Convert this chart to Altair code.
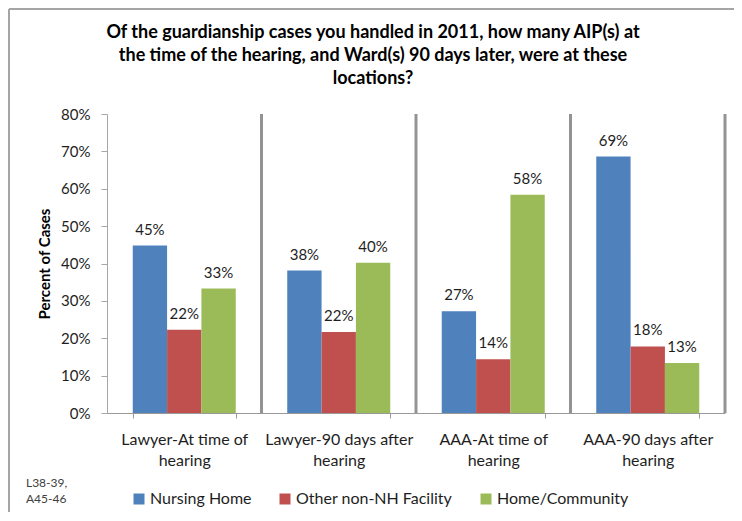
import altair as alt
import pandas as pd

# ---- data ----
categories = [
    "Lawyer-At time of hearing",
    "Lawyer-90 days after hearing",
    "AAA-At time of hearing",
    "AAA-90 days after hearing",
]
series = ["Nursing Home", "Other non-NH Facility", "Home/Community"]
nursing_home = [0.448, 0.381, 0.272, 0.686]
other_facility = [0.223, 0.217, 0.144, 0.178]
home_community = [0.333, 0.402, 0.584, 0.134]
colors = ["#4F81BD", "#C0504D", "#9BBB59"]
y_ticks = [0.0, 0.1, 0.2, 0.3, 0.4, 0.5, 0.6, 0.7, 0.8]
boundaries = [1, 2, 3, 4]
title_text = (
    "Of the guardianship cases you handled in 2011, how many AIP(s) at\n"
    "the time of the hearing, and Ward(s) 90 days later, were at these\n"
    "locations?"
)
footnote = "L38-39,\nA45-46"

rows = []
for i, c in enumerate(categories):
    for s, vals in zip(series, [nursing_home, other_facility, home_community]):
        rows.append({"category": c, "series": s, "value": vals[i]})
df = pd.DataFrame(rows)

W, H = 618, 299
FONT = "Lato"
TXT = "#1e1e1e"
PAD = {"left": 99, "top": 106, "right": 9, "bottom": 99}

x_enc = alt.X(
    "category:N",
    sort=categories,
    scale=alt.Scale(paddingInner=1 / 3, paddingOuter=1 / 6),
    axis=alt.Axis(
        title=None,
        tickBand="extent",
        labelExpr="(datum.label && length(datum.label) > 0) ? [replace(datum.label, ' hearing', ''), 'hearing'] : ''",
        labelAngle=0,
        labelFontSize=16,
        labelColor=TXT,
        labelPadding=13,
        labelLineHeight=21,
        labelBaseline="top",
        tickSize=5,
        tickColor="#999999",
        domainColor="#999999",
        grid=False,
    ),
)
xoff = alt.XOffset("series:N", sort=series, scale=alt.Scale(paddingInner=0, paddingOuter=0))
y_axis = alt.Axis(
    values=y_ticks,
    tickCount=9,
    format=".0%",
    labelFontSize=15,
    labelColor=TXT,
    labelPadding=11,
    labelFlush=False,
    labelOverlap=False,
    tickSize=6,
    tickColor="#A6A6A6",
    domainColor="#A6A6A6",
    grid=False,
    title="Percent of Cases",
    titleFontSize=15,
    titleFontWeight="bold",
    titleColor="#000000",
    titleAngle=270,
    titleX=-63,
    titleY=H / 2,
    titleAlign="center",
    titleBaseline="middle",
)
y_enc = alt.Y("value:Q", scale=alt.Scale(domain=[0, 0.8], nice=False), axis=y_axis)

bars = alt.Chart(df).mark_bar().encode(
    x=x_enc,
    xOffset=xoff,
    y=y_enc,
    color=alt.Color(
        "series:N",
        sort=series,
        scale=alt.Scale(domain=series, range=colors),
        legend=alt.Legend(
            title=None,
            orient="none",
            legendX=24,
            legendY=377,
            direction="horizontal",
            symbolType="square",
            symbolSize=121,
            symbolStrokeWidth=0,
            labelFontSize=16,
            labelColor=TXT,
            labelOffset=3,
            columnPadding=25,
            padding=0,
        ),
    ),
)

labels = alt.Chart(df).mark_text(
    dy=-11, baseline="alphabetic", fontSize=15, color=TXT, font=FONT
).encode(
    x=x_enc,
    xOffset=xoff,
    y=y_enc,
    text=alt.Text("value:Q", format=".0%"),
)

separators = alt.Chart(pd.DataFrame({"b": boundaries})).mark_rule(
    color="#939393", strokeWidth=3
).encode(
    x=alt.X("b:Q", scale=alt.Scale(domain=[0, 4], nice=False, zero=True), axis=None),
    y=alt.value(0),
    y2=alt.value(H),
)

title = alt.Chart(pd.DataFrame({"t": [title_text]})).mark_text(
    align="center", baseline="alphabetic", fontSize=18, fontWeight="bold",
    color="#000000", lineBreak="\n", lineHeight=23, font=FONT
).encode(x=alt.value(W / 2 - 43), y=alt.value(-76), text="t:N")

note = alt.Chart(pd.DataFrame({"t": [footnote]})).mark_text(
    align="left", baseline="alphabetic", fontSize=12, color="#404040",
    lineBreak="\n", lineHeight=16, font=FONT
).encode(x=alt.value(-81), y=alt.value(373), text="t:N")

frame_top = alt.Chart(pd.DataFrame({"k": [0]})).mark_rule(
    color="#A5A5A5", strokeWidth=2
).encode(x=alt.value(-98), x2=alt.value(W + 9), y=alt.value(-105))
frame_left = alt.Chart(pd.DataFrame({"k": [0]})).mark_rule(
    color="#A5A5A5", strokeWidth=2
).encode(x=alt.value(-98), y=alt.value(-105), y2=alt.value(H + 99))

chart = (
    alt.layer(alt.layer(bars, labels), separators, title, note, frame_top, frame_left)
    .resolve_scale(x="independent")
    .properties(
        width=W,
        height=H,
        autosize=alt.AutoSizeParams(type="none"),
        padding=PAD,
    )
    .configure(font=FONT)
    .configure_view(stroke=None)
)

chart.save("out.html", embed_options={"renderer": "svg", "actions": False})
